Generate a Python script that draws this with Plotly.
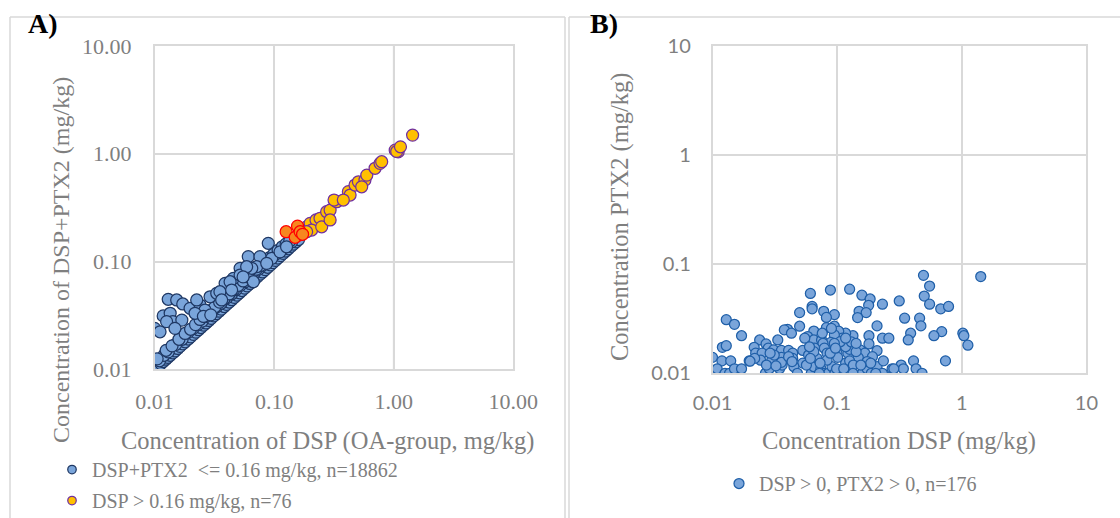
import plotly.graph_objects as go

# ---------------- Panel A data (DSP vs DSP+PTX2, mg/kg) ----------------
# dense band along the diagonal (DSP+PTX2 <= 0.16)
blue_dsp = [0.0100, 0.0104, 0.0109, 0.0113, 0.0118, 0.0124, 0.0129, 0.0135, 0.0142, 0.0148,
            0.0156, 0.0163, 0.0172, 0.0180, 0.0191, 0.0200, 0.0211, 0.0221, 0.0233, 0.0244,
            0.0257, 0.0269, 0.0284, 0.0297, 0.0313, 0.0328, 0.0346, 0.0362, 0.0382, 0.0400,
            0.0421, 0.0442, 0.0465, 0.0488, 0.0513, 0.0538, 0.0567, 0.0594, 0.0626, 0.0656,
            0.0691, 0.0725, 0.0763, 0.0800, 0.0842, 0.0884, 0.0930, 0.0976, 0.1026, 0.1077,
            0.1133, 0.1190, 0.1251, 0.1314, 0.1381, 0.1450, 0.1525, 0.1600,
            0.011, 0.012, 0.013, 0.015, 0.017, 0.019, 0.021, 0.023, 0.025, 0.027,
            0.030, 0.033, 0.036, 0.040, 0.044, 0.048, 0.052, 0.057, 0.062, 0.068,
            0.074, 0.080, 0.087, 0.095, 0.103, 0.112, 0.121, 0.130, 0.140,
            0.0105, 0.0125, 0.014, 0.016, 0.018, 0.020, 0.022, 0.024, 0.026, 0.029,
            0.032, 0.035, 0.038, 0.042, 0.046, 0.050, 0.055, 0.060, 0.065, 0.071,
            0.077, 0.084, 0.091, 0.099, 0.108, 0.117, 0.126, 0.135,
            0.0100, 0.0111, 0.0130, 0.0153, 0.0172, 0.0118, 0.0135, 0.0142, 0.0126, 0.0169,
            0.0198, 0.0240, 0.0225, 0.0291, 0.0331, 0.0389, 0.0456, 0.0519, 0.0608, 0.0762,
            0.0893, 0.0714, 0.0519, 0.0428, 0.0352, 0.0264, 0.0218, 0.0650, 0.0955, 0.1120,
            0.1270, 0.0589, 0.0364, 0.0441, 0.0867, 0.0670, 0.0148, 0.0256, 0.0295, 0.0550]
blue_sum = [0.0100, 0.0104, 0.0109, 0.0113, 0.0118, 0.0124, 0.0129, 0.0135, 0.0142, 0.0148,
            0.0156, 0.0163, 0.0172, 0.0180, 0.0191, 0.0200, 0.0211, 0.0221, 0.0233, 0.0244,
            0.0257, 0.0269, 0.0284, 0.0297, 0.0313, 0.0328, 0.0346, 0.0362, 0.0382, 0.0400,
            0.0421, 0.0442, 0.0465, 0.0488, 0.0513, 0.0538, 0.0567, 0.0594, 0.0626, 0.0656,
            0.0691, 0.0725, 0.0763, 0.0800, 0.0842, 0.0884, 0.0930, 0.0976, 0.1026, 0.1077,
            0.1133, 0.1190, 0.1251, 0.1314, 0.1381, 0.1450, 0.1525, 0.1600,
            0.012, 0.0135, 0.0145, 0.017, 0.019, 0.022, 0.024, 0.026, 0.028, 0.031,
            0.034, 0.038, 0.041, 0.046, 0.050, 0.055, 0.060, 0.065, 0.071, 0.078,
            0.085, 0.092, 0.099, 0.108, 0.117, 0.126, 0.135, 0.145, 0.152,
            0.0125, 0.0150, 0.0165, 0.019, 0.0215, 0.0235, 0.026, 0.029, 0.031, 0.035,
            0.038, 0.042, 0.045, 0.050, 0.055, 0.060, 0.066, 0.072, 0.078, 0.085,
            0.092, 0.100, 0.108, 0.117, 0.127, 0.137, 0.146, 0.155,
            0.0240, 0.0223, 0.0446, 0.0440, 0.0404, 0.0313, 0.0331, 0.0277, 0.0277, 0.0286,
            0.0368, 0.0395, 0.0440, 0.0471, 0.0507, 0.0628, 0.0698, 0.0865, 0.1110, 0.1110,
            0.1476, 0.0895, 0.0750, 0.0650, 0.0525, 0.0355, 0.0331, 0.0865, 0.1070, 0.1230,
            0.1370, 0.0895, 0.0440, 0.0544, 0.0962, 0.0650, 0.0240, 0.0310, 0.0320, 0.0720]

# DSP > 0.16 mg/kg (yellow)
yel_dsp = [0.187, 0.200, 0.224, 0.242, 0.275, 0.294, 0.334, 0.317, 0.418, 0.432,
           0.475, 0.507, 0.575, 0.596, 0.699, 0.769, 0.794, 1.03, 1.09, 1.06,
           1.14, 1.44, 0.206, 0.187, 0.250, 0.294, 0.379, 0.540]
yel_sum = [0.210, 0.226, 0.243, 0.252, 0.290, 0.300, 0.359, 0.372, 0.445, 0.414,
           0.513, 0.550, 0.570, 0.634, 0.733, 0.815, 0.844, 1.08, 1.04, 1.05,
           1.16, 1.49, 0.196, 0.189, 0.210, 0.243, 0.372, 0.494]

# transition points (orange)
org_dsp = [0.126, 0.157, 0.160, 0.150, 0.165, 0.173]
org_sum = [0.189, 0.213, 0.176, 0.168, 0.189, 0.179]

# ---------------- Panel B data (DSP vs PTX2, mg/kg) ----------------
pb_dsp = [0.493, 1.42, 0.552, 0.0883, 0.126, 0.061, 0.158, 0.184, 0.50, 0.315,
          0.231, 0.552, 0.179, 0.678, 0.783, 0.063, 0.063, 0.078, 0.050, 0.150,
          0.171, 0.095, 0.146, 0.348, 0.459, 0.082, 0.0129, 0.015, 0.47, 0.209,
          0.095, 0.082, 0.050, 0.065, 0.040, 0.0377, 0.043, 0.0171, 1.02, 1.04,
          1.12, 0.69, 0.389, 0.372, 0.598, 0.231, 0.26, 0.18, 0.134, 0.117,
          0.103, 0.11, 0.095, 0.058, 0.065, 0.075, 0.089, 0.077, 0.055, 0.0334,
          0.0239, 0.0269, 0.0216, 0.012, 0.0129, 0.028, 0.0309, 0.0357, 0.0408, 0.044,
          0.053, 0.066, 0.079, 0.083, 0.0998, 0.122, 0.126, 0.153, 0.167, 0.209,
          0.192, 0.148, 0.0222, 0.025, 0.0197, 0.0243, 0.0299, 0.0357, 0.053, 0.044,
          0.010, 0.0119, 0.014, 0.0109, 0.0126, 0.0137, 0.015, 0.0171, 0.0266, 0.0286,
          0.0345, 0.0362, 0.045, 0.048, 0.062, 0.065, 0.074, 0.078, 0.085, 0.091,
          0.096, 0.099, 0.117, 0.126, 0.135, 0.159, 0.174, 0.188, 0.209, 0.231,
          0.235, 0.276, 0.326, 0.34, 0.41, 0.43, 0.48, 0.74, 0.101, 0.083,
          0.069, 0.142, 0.117, 0.18, 0.0357, 0.0218, 0.059, 0.106, 0.13, 0.073,
          0.065, 0.174, 0.0408, 0.0313, 0.0271, 0.0323, 0.088, 0.134, 0.113, 0.285,
          0.186, 0.0435, 0.0567, 0.090, 0.117, 0.020, 0.095, 0.076, 0.060, 0.155,
          0.204, 0.072, 0.061, 0.097, 0.029, 0.142]
pb_ptx2 = [0.079, 0.077, 0.063, 0.058, 0.059, 0.054, 0.052, 0.048, 0.051, 0.046,
           0.043, 0.043, 0.042, 0.039, 0.041, 0.041, 0.039, 0.037, 0.036, 0.037,
           0.036, 0.0345, 0.0324, 0.032, 0.032, 0.0325, 0.031, 0.0281, 0.0272, 0.0272,
           0.027, 0.0262, 0.027, 0.0244, 0.0253, 0.025, 0.0233, 0.0221, 0.0233, 0.0221,
           0.0181, 0.0241, 0.0233, 0.0202, 0.0221, 0.021, 0.021, 0.0221, 0.0221, 0.0233,
           0.0243, 0.021, 0.0225, 0.0217, 0.0202, 0.0202, 0.0192, 0.0188, 0.021, 0.0202,
           0.0202, 0.0186, 0.0173, 0.0173, 0.0179, 0.017, 0.0164, 0.0162, 0.0162, 0.0153,
           0.0162, 0.017, 0.017, 0.0153, 0.0153, 0.0153, 0.0166, 0.0164, 0.0153, 0.0161,
           0.0142, 0.0139, 0.0153, 0.0153, 0.013, 0.0132, 0.0132, 0.014, 0.0124, 0.0137,
           0.014, 0.013, 0.013, 0.011, 0.010, 0.010, 0.011, 0.011, 0.010, 0.011,
           0.011, 0.0119, 0.0115, 0.010, 0.010, 0.0115, 0.011, 0.010, 0.010, 0.0115,
           0.010, 0.011, 0.0124, 0.013, 0.0119, 0.010, 0.011, 0.010, 0.0115, 0.010,
           0.013, 0.011, 0.0119, 0.011, 0.013, 0.011, 0.010, 0.013, 0.014, 0.0132,
           0.0137, 0.0158, 0.0175, 0.0186, 0.0126, 0.0137, 0.0147, 0.0195, 0.0194, 0.0124,
           0.0158, 0.0128, 0.0142, 0.0147, 0.0119, 0.0117, 0.0153, 0.010, 0.011, 0.011,
           0.0124, 0.0128, 0.0119, 0.0258, 0.021, 0.0129, 0.0188, 0.0233, 0.0175, 0.0119,
           0.010, 0.010, 0.0137, 0.017, 0.0153, 0.0188]

tick_vals = [0.01, 0.1, 1, 10]
tick_text_a = ["0.01", "0.10", "1.00", "10.00"]
tick_text_b = ["0.01", "0.1", "1", "10"]

legend_a = ["DSP+PTX2&nbsp; &lt;= 0.16 mg/kg, n=18862", "DSP &gt; 0.16 mg/kg, n=76"]
legend_b = "DSP &gt; 0, PTX2 &gt; 0, n=176"

W, H = 1120, 518
SERIF = "Liberation Serif"
SANS = "Lato"
GRAY = "#7f7f7f"
GRID = "#d9d9d9"

BLUE_FILL = "#7aa5da"
NAVY = "#1f3864"
BLUE_LINE_B = "#1f5fa8"
YELLOW = "#ffc000"
PURPLE = "#7030a0"
ORANGE = "#f7871f"
RED = "#ff0000"

fig = go.Figure()

# panel A
fig.add_trace(go.Scatter(x=blue_dsp, y=blue_sum, mode="markers", xaxis="x", yaxis="y",
                         showlegend=False,
                         marker=dict(size=12, color=BLUE_FILL, line=dict(color=NAVY, width=1.25))))
fig.add_trace(go.Scatter(x=yel_dsp, y=yel_sum, mode="markers", xaxis="x", yaxis="y",
                         showlegend=False,
                         marker=dict(size=12, color=YELLOW, line=dict(color=PURPLE, width=1.25))))
fig.add_trace(go.Scatter(x=org_dsp, y=org_sum, mode="markers", xaxis="x", yaxis="y",
                         showlegend=False,
                         marker=dict(size=12, color=ORANGE, line=dict(color=RED, width=1.25))))
# legend entries for panel A
fig.add_trace(go.Scatter(x=[None], y=[None], mode="markers", xaxis="x", yaxis="y",
                         name=legend_a[0], legend="legend", legendgroup="a1",
                         marker=dict(size=8.5, color=BLUE_FILL, line=dict(color=NAVY, width=1.25))))
fig.add_trace(go.Scatter(x=[None], y=[None], mode="markers", xaxis="x", yaxis="y",
                         name=legend_a[1], legend="legend", legendgroup="a2",
                         marker=dict(size=8.5, color=YELLOW, line=dict(color=PURPLE, width=1.25))))
# panel B
fig.add_trace(go.Scatter(x=pb_dsp, y=pb_ptx2, mode="markers", xaxis="x2", yaxis="y2",
                         name=legend_b, legend="legend2",
                         marker=dict(size=10, color=BLUE_FILL, line=dict(color=BLUE_LINE_B, width=1.25))))

ax_common = dict(type="log", range=[-2, 1], tickvals=tick_vals, showgrid=True,
                 gridcolor=GRID, gridwidth=1.5, showline=True, linecolor=GRID,
                 linewidth=1.5, mirror=True, ticks="", zeroline=False, automargin=False)

fig.update_layout(
    template="none",
    width=W, height=H, margin=dict(l=0, r=0, t=0, b=0, pad=0, autoexpand=False),
    paper_bgcolor="white", plot_bgcolor="white",
    xaxis=dict(domain=[154.6 / W, 513.2 / W], anchor="y", ticktext=tick_text_a,
               tickfont=dict(family=SERIF, size=22, color=GRAY), ticklabelstandoff=12,
               **ax_common),
    yaxis=dict(domain=[1 - 369.3 / H, 1 - 46 / H], anchor="x", ticktext=tick_text_a,
               tickfont=dict(family=SERIF, size=22, color=GRAY), ticklabelstandoff=17,
               **ax_common),
    xaxis2=dict(domain=[712.5 / W, 1086.4 / W], anchor="y2", ticktext=tick_text_b,
                tickfont=dict(family=SANS, size=20, color=GRAY), ticklabelstandoff=11,
                **ax_common),
    yaxis2=dict(domain=[1 - 373.3 / H, 1 - 46 / H], anchor="x2", ticktext=tick_text_b,
                tickfont=dict(family=SANS, size=20, color=GRAY), ticklabelstandoff=16,
                **ax_common),
    legend=dict(x=52 / W, y=1 - 450 / H, xanchor="left", yanchor="top",
                font=dict(family=SERIF, size=20, color=GRAY), bgcolor="rgba(0,0,0,0)",
                tracegroupgap=2, itemsizing="trace"),
    legend2=dict(x=719 / W, y=1 - 464 / H, xanchor="left", yanchor="top",
                 font=dict(family=SERIF, size=20, color=GRAY), bgcolor="rgba(0,0,0,0)"),
)

shapes = [
    # panel frames
    dict(type="line", xref="paper", yref="paper", x0=10 / W, x1=565 / W, y0=1 - 17 / H, y1=1 - 17 / H,
         line=dict(color=GRID, width=1.5)),
    dict(type="line", xref="paper", yref="paper", x0=10 / W, x1=10 / W, y0=1 - 17 / H, y1=0,
         line=dict(color=GRID, width=1.5)),
    dict(type="line", xref="paper", yref="paper", x0=565 / W, x1=565 / W, y0=1 - 17 / H, y1=0,
         line=dict(color=GRID, width=1.5)),
    dict(type="line", xref="paper", yref="paper", x0=569 / W, x1=1, y0=1 - 17 / H, y1=1 - 17 / H,
         line=dict(color=GRID, width=1.5)),
    dict(type="line", xref="paper", yref="paper", x0=569 / W, x1=569 / W, y0=1 - 17 / H, y1=0,
         line=dict(color=GRID, width=1.5)),
]
# axis lines crossing at 1
for xr, yr in (("x", "y"), ("x2", "y2")):
    shapes.append(dict(type="line", xref=xr, yref=yr + " domain", x0=1, x1=1, y0=0, y1=1,
                       line=dict(color="#bfbfbf", width=1.5), layer="below"))
    shapes.append(dict(type="line", xref=xr + " domain", yref=yr, x0=0, x1=1, y0=1, y1=1,
                       line=dict(color="#bfbfbf", width=1.5), layer="below"))
fig.update_layout(shapes=shapes)

ann = [
    dict(text="<b>A)</b>", x=26 / W, y=1 - 23 / H, xanchor="left", yanchor="middle",
         font=dict(family=SERIF, size=28, color="black")),
    dict(text="<b>B)</b>", x=588 / W, y=1 - 23 / H, xanchor="left", yanchor="middle",
         font=dict(family=SERIF, size=28, color="black")),
    dict(text="Concentration of DSP (OA-group, mg/kg)", x=328 / W, y=1 - 441 / H,
         xanchor="center", yanchor="middle", font=dict(family=SERIF, size=24.5, color=GRAY)),
    dict(text="Concentration of DSP+PTX2 (mg/kg)", x=61 / W, y=1 - 260 / H, textangle=-90,
         xanchor="center", yanchor="middle", font=dict(family=SERIF, size=24, color=GRAY)),
    dict(text="Concentration DSP (mg/kg)", x=899 / W, y=1 - 441 / H,
         xanchor="center", yanchor="middle", font=dict(family=SERIF, size=24.5, color=GRAY)),
    dict(text="Concentration PTX2 (mg/kg)", x=620 / W, y=1 - 217 / H, textangle=-90,
         xanchor="center", yanchor="middle", font=dict(family=SERIF, size=24.5, color=GRAY)),
]
for a in ann:
    a.update(xref="paper", yref="paper", showarrow=False)
fig.update_layout(annotations=ann)

# remove the default page margin so the figure sits at the window's top-left corner
fig.write_html("out.html", config={"displayModeBar": False},
               post_script="document.body.style.margin='0';document.body.style.padding='0';")
